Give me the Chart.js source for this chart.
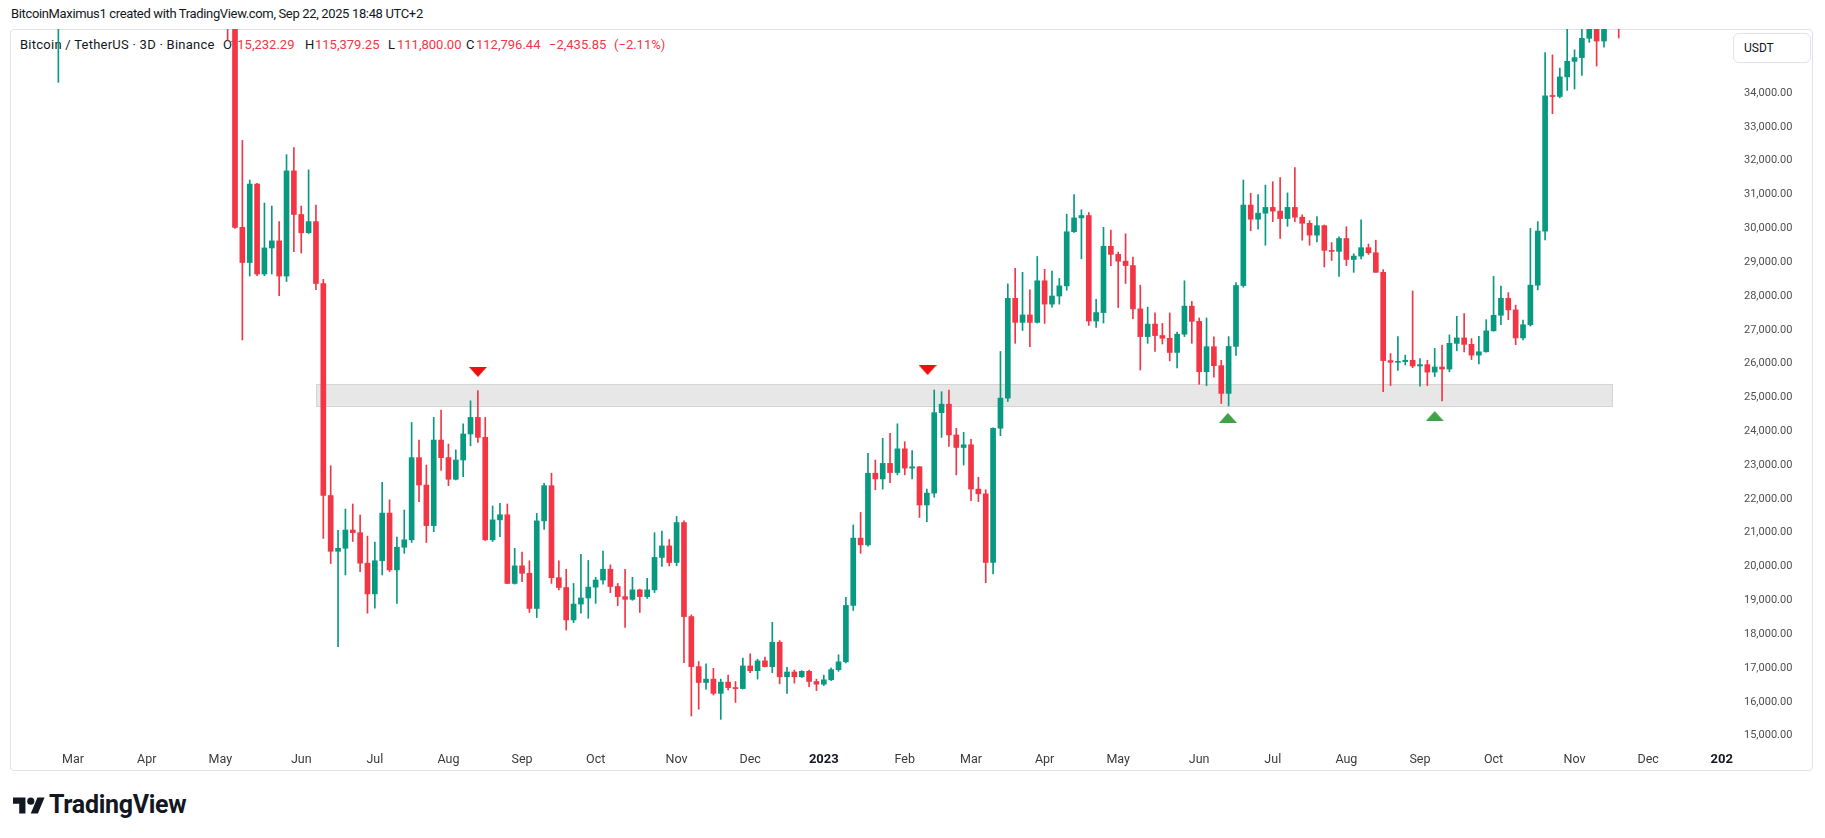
<!DOCTYPE html>
<html>
<head>
<meta charset="utf-8">
<script src="https://cdn.jsdelivr.net/npm/chart.js@4.4.1/dist/chart.umd.min.js"></script>
<style>
  body { margin: 0; background: #fff; width: 1825px; height: 838px; position: relative; overflow: hidden;
         font-family: Roboto, "Noto Sans", sans-serif; color: #131722; }
  #title { position: absolute; left: 11px; top: 6px; font-size: 13px; letter-spacing: -0.35px; }
  #frame { position: absolute; left: 10px; top: 29px; width: 1803px; height: 742px;
           border: 1px solid #e0e3eb; border-radius: 4px; box-sizing: border-box; }
  .lg { position: absolute; top: 37px; font-size: 13px; white-space: nowrap; line-height: 16px; }
  .red { color: #F23645; }
  #unit { position: absolute; left: 1733px; top: 33px; width: 78px; height: 30px; border: 1px solid #e0e3eb;
          border-radius: 6px; box-sizing: border-box; font-size: 12px; line-height: 28px; padding-left: 10px; }
  #wrap { position: absolute; left: 10px; top: 29px; width: 1803px; height: 742px; }
  #logo { position: absolute; left: 13px; top: 794px; }
  #brand { position: absolute; left: 49px; top: 790px; font-size: 25px; font-weight: 700; letter-spacing: -0.3px; }
</style>
</head>
<body>
<div id="title">BitcoinMaximus1 created with TradingView.com, Sep 22, 2025 18:48 UTC+2</div>
<div id="frame"></div>
<div class="lg" style="left:20px; letter-spacing:0.25px">Bitcoin / TetherUS · 3D · Binance</div>
<div class="lg" style="left:223px">O</div><div class="lg red" style="left:230px">115,232.29</div>
<div class="lg" style="left:305px">H</div><div class="lg red" style="left:315px">115,379.25</div>
<div class="lg" style="left:388px">L</div><div class="lg red" style="left:397px">111,800.00</div>
<div class="lg" style="left:466px">C</div><div class="lg red" style="left:476px">112,796.44</div>
<div class="lg red" style="left:549px">−2,435.85</div>
<div class="lg red" style="left:614px">(−2.11%)</div>
<div id="unit">USDT</div>
<div id="wrap"><canvas id="chart"></canvas></div>
<svg id="logo" width="32" height="25" viewBox="0 0 36 28"><path fill="#131722" d="M14 22H7V11H0V4h14v18zM28 22h-8l7.5-18h8L28 22z"/><circle fill="#131722" cx="20" cy="8" r="4"/></svg>
<div id="brand">TradingView</div>
<script>
// 3D bars, index 0 = bar of 7 May 2022; first stored bar is index -24 (24 Feb 2022)
const firstBar = -24;
const opens = [
  37250, null, null, null, null, null, null, null, null, null, null, null, null, null, null, null, null, null, null, null, null, null, null, 37720,
  36050, 30030, 28990, 31310, 28650, 29420, 29630, 28590, 31700, 30410,
  29870, 30200, 28370, 22100, 20450, 20540, 21080, 21000, 20100, 19190,
  20170, 21580, 19900, 20570, 20790, 23220, 22410, 21210, 23740, 23220,
  22580, 23150, 23920, 24410, 23820, 20790, 21380, 21530, 19500, 20020,
  19800, 18760, 21350, 22390, 19670, 19380, 18420, 18890, 19070, 19390,
  19600, 19920, 19410, 19110, 19030, 19310, 19110, 19310, 20270, 20610,
  20120, 21300, 18520, 17040, 16570, 16670, 16250, 16580, 16420, 16390,
  17060, 16920, 17210, 17040, 17760, 16740, 16880, 16740, 16900, 16600,
  16520, 16650, 16950, 17180, 18850, 20840, 20640, 22760, 22590, 23050,
  22780, 23480, 22910, 22950, 21820, 22170, 24550, 24800, 23890, 23520,
  23600, 22290, 22150, 20120, 24090, 24980, 27930, 27220, 27440, 27220,
  28450, 27760, 28000, 28300, 29900, 30310, 30380, 27260, 27510, 29470,
  29230, 29030, 28900, 27620, 26800, 27170, 26830, 26750, 26330, 26870,
  27700, 27250, 25760, 26500, 25940, 25120, 26510, 28310, 30690, 30270,
  30450, 30620, 30510, 30290, 30620, 30330, 30150, 29800, 30080, 29350,
  29320, 29700, 29080, 29180, 29430, 29280, 28700, 26090, 26040, 26060,
  26100, 25930, 25970, 25750, 25900, 25840, 26600, 26760, 26570, 26250,
  26350, 26970, 27430, 27930, 27590, 26760, 27150, 28320, 29920, 33920,
  33900, 34480, 34940, 35050, 35620, 37320, 35540, 36160, 37350
];
const highs = [
  39850, null, null, null, null, null, null, null, null, null, null, null, null, null, null, null, null, null, null, null, null, null, null, 39800,
  36150, 32600, 31430, 31330, 30750, 30660, 30200, 32180, 32390, 30660,
  31730, 30690, 28490, 22980, 21070, 21700, 21850, 21520, 20900, 20720,
  22490, 21970, 20870, 21670, 24260, 23740, 23000, 24410, 24630, 23620,
  23450, 24220, 24900, 25200, 24410, 21790, 21870, 21850, 20540, 20430,
  20170, 21570, 22460, 22760, 20170, 19920, 19500, 20360, 20180, 19680,
  20460, 20050, 19500, 19920, 19680, 19330, 19650, 21000, 21050, 20800,
  21480, 21350, 18570, 17190, 17120, 16990, 16670, 16790, 16600, 17290,
  17420, 17260, 17320, 18350, 17810, 17020, 16940, 16920, 16940, 16670,
  16790, 17000, 17390, 19090, 21230, 21600, 23350, 23150, 23790, 23940,
  24220, 23690, 23430, 22960, 22290, 25220, 25170, 25220, 24090, 23970,
  23760, 22640, 22270, 24100, 26360, 28360, 28820, 28700, 28180, 29170,
  28790, 28740, 28520, 30420, 31000, 30550, 30470, 27900, 30030, 29950,
  29300, 29840, 29150, 28320, 27670, 27500, 27190, 27500, 26930, 28450,
  27840, 27350, 27350, 26790, 26100, 26800, 28400, 31430, 31040, 31000,
  31280, 31380, 31500, 31050, 31800, 30400, 30230, 30350, 30100, 29580,
  29750, 30050, 29250, 30250, 29540, 29650, 28780, 26300, 26800, 26250,
  28150, 26150, 26100, 26450, 26550, 26850, 27400, 27480, 26740, 26810,
  27300, 28580, 28290, 28100, 27730, 27290, 30000, 30200, 35200, 35130,
  34740, 35980, 35280, 35980, 37970, 37400, 37980, 37650, 37850
];
const lows = [
  34320, null, null, null, null, null, null, null, null, null, null, null, null, null, null, null, null, null, null, null, null, null, null, 35560,
  30000, 26700, 28590, 28600, 28600, 28650, 28010, 28430, 29310, 29270,
  29850, 28190, 20830, 20090, 17630, 19750, 20740, 19850, 18620, 18770,
  19750, 19850, 18910, 20390, 20710, 21920, 20710, 21030, 22840, 22390,
  22560, 22660, 23570, 23670, 20770, 20740, 20880, 19490, 19480, 19550,
  18640, 18490, 21100, 19500, 19310, 18120, 18340, 18620, 18470, 18910,
  19480, 19230, 18840, 18200, 19000, 18640, 19060, 19230, 20000, 20020,
  20020, 17160, 15580, 15780, 16370, 16200, 15480, 16350, 15980, 16380,
  16860, 16670, 17030, 16860, 16530, 16250, 16550, 16720, 16450, 16330,
  16480, 16630, 16900, 17150, 18700, 20390, 20600, 22270, 22290, 22480,
  22710, 22710, 22590, 21450, 21330, 22050, 23820, 23550, 22710, 23000,
  21950, 21920, 19520, 19780, 23870, 24880, 26600, 26980, 26500, 27200,
  27190, 27670, 27760, 28170, 29880, 29100, 27130, 27070, 27200, 28900,
  27660, 28370, 27330, 25810, 26600, 26360, 26580, 26080, 25870, 26800,
  26600, 25390, 25350, 25600, 24820, 24750, 26240, 28260, 29930, 29980,
  29500, 30200, 29700, 30060, 30200, 29650, 29500, 29600, 28860, 29050,
  28580, 28900, 28700, 29100, 29230, 28700, 25170, 25350, 25800, 25960,
  25880, 25330, 25350, 25620, 24900, 25760, 26380, 26350, 26120, 25990,
  26340, 26960, 27150, 27300, 26560, 26700, 27110, 28180, 29660, 33390,
  33860, 34080, 34120, 34520, 35500, 34800, 35360, 36000, 35630
];
const closes = [
  38890, null, null, null, null, null, null, null, null, null, null, null, null, null, null, null, null, null, null, null, null, null, null, 36000,
  30030, 28990, 31310, 28650, 29420, 29630, 28590, 31700, 30410, 29870,
  30200, 28370, 22100, 20450, 20540, 21080, 21000, 20100, 19190, 20170,
  21580, 19900, 20570, 20790, 23220, 22410, 21210, 23740, 23220, 22580,
  23150, 23920, 24410, 23820, 20790, 21380, 21530, 19500, 20020, 19800,
  18760, 21350, 22390, 19670, 19380, 18420, 18890, 19070, 19390, 19600,
  19920, 19410, 19110, 19030, 19310, 19110, 19310, 20270, 20610, 20120,
  21300, 18520, 17040, 16570, 16670, 16250, 16580, 16420, 16390, 17060,
  16920, 17210, 17040, 17760, 16740, 16880, 16740, 16900, 16600, 16520,
  16650, 16950, 17180, 18850, 20840, 20640, 22760, 22590, 23050, 22780,
  23480, 22910, 22950, 21820, 22170, 24550, 24800, 23890, 23520, 23600,
  22290, 22150, 20120, 24090, 24980, 27930, 27220, 27440, 27220, 28450,
  27760, 28000, 28300, 29900, 30310, 30380, 27260, 27510, 29470, 29230,
  29030, 28900, 27620, 26800, 27170, 26830, 26750, 26330, 26870, 27700,
  27250, 25760, 26500, 25940, 25120, 26510, 28310, 30690, 30270, 30450,
  30620, 30510, 30290, 30620, 30330, 30150, 29800, 30080, 29350, 29320,
  29700, 29080, 29180, 29430, 29280, 28700, 26090, 26040, 26060, 26100,
  25930, 25970, 25750, 25900, 25840, 26600, 26760, 26570, 26250, 26350,
  26970, 27430, 27930, 27590, 26760, 27150, 28320, 29920, 33920, 33900,
  34480, 34940, 35050, 35620, 37320, 35540, 36160, 37350, 37280
];

// time axis: bar index of the first bar of each month
const monthTickBars = [-22, -12, -2, 9, 19, 29, 39, 49, 60, 70, 80, 91, 100, 110, 120, 131, 141, 151, 161, 171, 182, 192, 202];
const monthTickLabels = ['Mar', 'Apr', 'May', 'Jun', 'Jul', 'Aug', 'Sep', 'Oct', 'Nov', 'Dec', '2023',
  'Feb', 'Mar', 'Apr', 'May', 'Jun', 'Jul', 'Aug', 'Sep', 'Oct', 'Nov', 'Dec', '202'];
const yearLabels = ['2023', '202'];
const priceTicks = [15000, 16000, 17000, 18000, 19000, 20000, 21000, 22000, 23000, 24000,
  25000, 26000, 27000, 28000, 29000, 30000, 31000, 32000, 33000, 34000];

// support zone and arrow marks
const zoneBars = [11.05, 187.1];
const zonePrices = [24750, 25400];
const downMarkBars = [33.0, 94.1];
const downMarkPrices = [25755, 25810];
const upMarkBars = [134.9, 163.0];
const upMarkPrices = [24395, 24450];

const GREEN = '#089981', RED = '#F23645';

const wicks = [], bodies = [], colors = [];
opens.forEach((o, k) => {
  if (o === null) return;
  const i = firstBar + k;
  wicks.push({ x: i, y: [lows[k], highs[k]] });
  bodies.push({ x: i, y: [o, closes[k]] });
  colors.push(closes[k] >= o ? GREEN : RED);
});

function markCanvas(dir, color) {
  const c = document.createElement('canvas');
  c.width = 18; c.height = 10;
  const g = c.getContext('2d');
  g.fillStyle = color;
  g.beginPath();
  if (dir === 'down') { g.moveTo(0, 0); g.lineTo(18, 0); g.lineTo(9, 10); }
  else { g.moveTo(9, 0); g.lineTo(18, 10); g.lineTo(0, 10); }
  g.closePath(); g.fill();
  return c;
}

const zonePlugin = {
  id: 'zone',
  beforeDatasetsDraw(chart) {
    const { ctx, scales: { x, y } } = chart;
    const x0 = x.getPixelForValue(zoneBars[0]), x1 = x.getPixelForValue(zoneBars[1]);
    const y0 = y.getPixelForValue(zonePrices[1]), y1 = y.getPixelForValue(zonePrices[0]);
    ctx.save();
    ctx.fillStyle = '#e7e7e7';
    ctx.fillRect(x0, y0, x1 - x0, y1 - y0);
    ctx.strokeStyle = '#d4d4d4';
    ctx.lineWidth = 1;
    ctx.strokeRect(Math.round(x0) + 0.5, Math.round(y0) + 0.5, Math.round(x1 - x0), Math.round(y1 - y0));
    ctx.restore();
  }
};

new Chart(document.getElementById('chart'), {
  type: 'bar',
  data: {
    datasets: [
      { data: wicks, backgroundColor: colors, barThickness: 1, order: 3, clip: 0 },
      { data: bodies, backgroundColor: colors, barThickness: 5, minBarLength: 1, order: 2, clip: 0 },
      { type: 'scatter', data: downMarkBars.map((b, k) => ({ x: b, y: downMarkPrices[k] })),
        pointStyle: markCanvas('down', '#f00f0f'), pointRadius: 9, order: 1 },
      { type: 'scatter', data: upMarkBars.map((b, k) => ({ x: b, y: upMarkPrices[k] })),
        pointStyle: markCanvas('up', '#43a047'), pointRadius: 9, order: 1 }
    ]
  },
  options: {
    responsive: true,
    maintainAspectRatio: false,
    animation: false,
    events: [],
    layout: { padding: 0, autoPadding: false },
    datasets: { bar: { grouped: false } },
    plugins: { legend: { display: false }, tooltip: { enabled: false } },
    scales: {
      x: {
        type: 'linear', min: -30.57, max: 202.17, offset: false,
        grid: { display: false, offset: false, drawTicks: false },
        border: { display: false },
        afterBuildTicks: s => { s.ticks = monthTickBars.map(v => ({ value: v })); },
        afterFit: s => { s.height = 28; s.paddingLeft = 0; s.paddingRight = 0; },
        ticks: {
          autoSkip: false, maxRotation: 0, padding: 9,
          callback: v => monthTickLabels[monthTickBars.indexOf(v)],
          color: c => yearLabels.includes(c.tick && c.tick.label) ? '#131722' : '#3b3b3b',
          font: c => yearLabels.includes(c.tick && c.tick.label)
            ? { family: 'Roboto', size: 13, weight: 'bold' } : { family: 'Roboto', size: 12.5 }
        }
      },
      y: {
        position: 'right', min: 14781, max: 35896,
        grid: { display: false, drawTicks: false },
        border: { display: false },
        afterBuildTicks: s => { s.ticks = priceTicks.map(v => ({ value: v })); },
        afterFit: s => { s.width = 90; s.paddingTop = 0; s.paddingBottom = 0; },
        ticks: {
          padding: 21, color: '#4f4f4f', font: { family: 'Roboto', size: 11 },
          callback: v => v.toLocaleString('en-US', { minimumFractionDigits: 2, maximumFractionDigits: 2 })
        }
      }
    }
  },
  plugins: [zonePlugin]
});
</script>
</body>
</html>
